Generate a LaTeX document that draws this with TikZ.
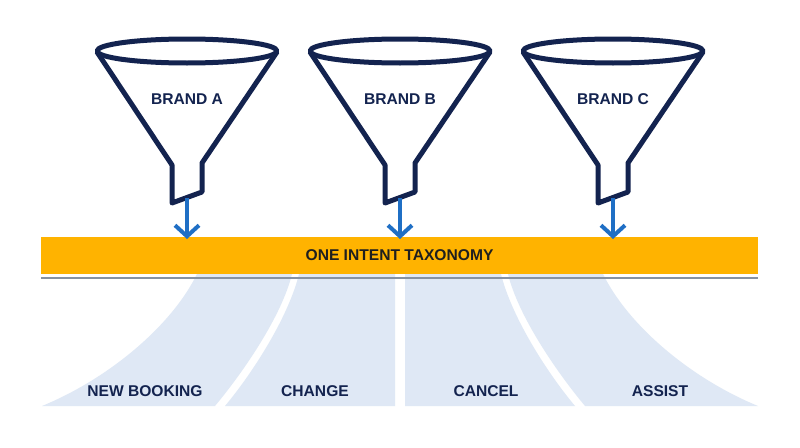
\documentclass[tikz,border=0pt]{standalone}
\usepackage{fontspec}
\setmainfont{Liberation Sans}
\usetikzlibrary{arrows.meta}
\definecolor{navy}{HTML}{13234F}
\definecolor{flowblue}{HTML}{1F6FC5}
\definecolor{barorange}{HTML}{FFB300}
\definecolor{lanefill}{HTML}{DFE8F5}
\definecolor{rulegray}{HTML}{8792A3}
\begin{document}
\begin{tikzpicture}[x=1pt,y=-1pt,
    funnel/.style={draw=navy,line width=5pt,line join=round},
    flow/.style={draw=flowblue,line width=4pt,-{Straight Barb[length=11pt,width=24pt,line width=4pt]}},
    lbl/.style={font=\fontsize{15.6}{18}\selectfont\bfseries,text=navy,inner sep=0pt},
    lane/.style={fill=lanefill,draw=none}]
    \fill[white] (0,0) rectangle (800,447);
    \useasboundingbox (0,0) rectangle (800,447);
    % lanes under the taxonomy bar
    \fill[lane] (197,274) -- (292,274) .. controls (282,315) and (245,370) .. (215,406)
        -- (42,406) .. controls (110,378) and (172,325) .. cycle;
    \fill[lane] (299,274) -- (395,274) -- (395,406) -- (225,406)
        .. controls (255,370) and (289,315) .. cycle;
    \fill[lane] (405,274) -- (501,274) .. controls (511,315) and (545,370) .. (575,406)
        -- (405,406) -- cycle;
    \fill[lane] (508,274) -- (603,274) .. controls (628,325) and (690,378) .. (758,406)
        -- (585,406) .. controls (555,370) and (518,315) .. cycle;
    % the bar
    \node[fill=barorange,minimum width=717pt,minimum height=37pt,inner sep=0pt,
        font=\fontsize{15.6}{18}\selectfont\bfseries,text={black!88}] (tax) at (399.5,255.5) {ONE INTENT TAXONOMY};
    \draw[rulegray,line width=2pt] (41,278) -- (758,278);
    % funnels
    \foreach \cx/\brand in {187/A,400/B,613/C}{
        \draw[funnel] (\cx,51) ellipse (90pt and 12pt);
        \draw[funnel] (\cx-90,52) -- (\cx-15,165) -- (\cx-15,203) -- (\cx+15,192)
            -- (\cx+15,163) -- (\cx+90,52);
        \node[lbl] (brand\brand) at (\cx,99) {BRAND \brand};
        \coordinate (spout\brand) at (\cx,198);
        \coordinate (in\brand) at (\cx,239);
        \draw[flow] (spout\brand) -- (in\brand);
    }
    % lane labels
    \node[lbl] (newbooking) at (145,391) {NEW BOOKING};
    \node[lbl] (change) at (315,391) {CHANGE};
    \node[lbl] (cancel) at (486,391) {CANCEL};
    \node[lbl] (assist) at (660,391) {ASSIST};
\end{tikzpicture}
\end{document}
